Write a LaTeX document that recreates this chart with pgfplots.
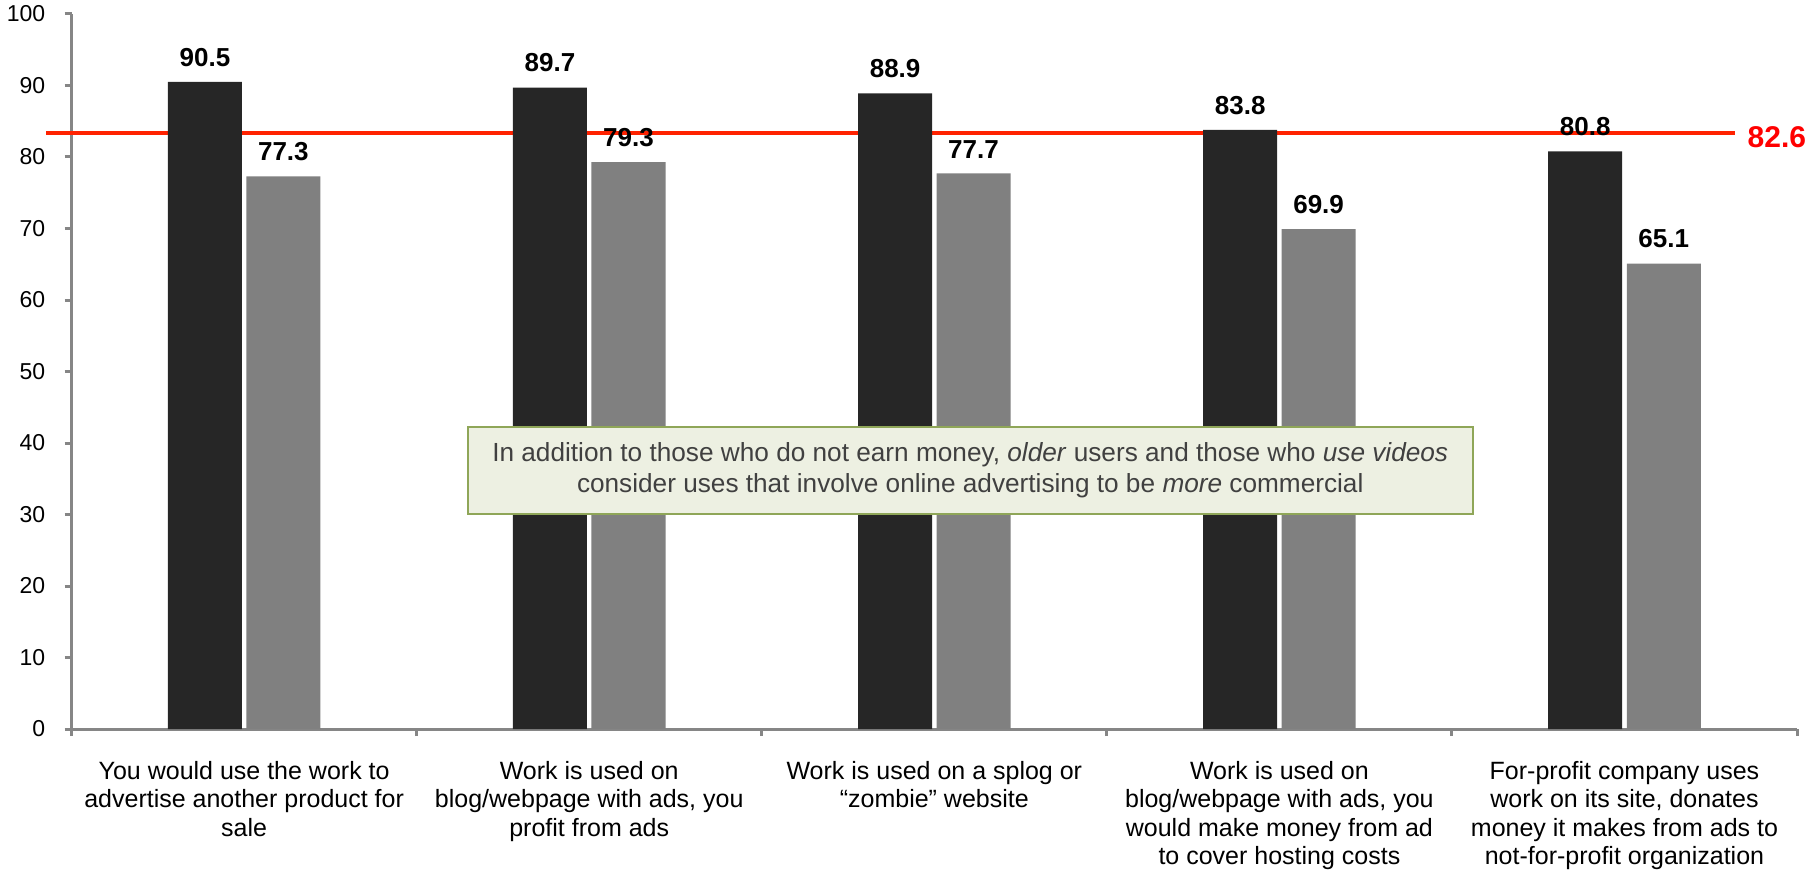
\documentclass[border=0pt]{standalone}
\usepackage{fontspec}
\setmainfont{Liberation Sans}
\usepackage{pgfplots}
\pgfplotsset{compat=1.18}
\definecolor{darkbar}{HTML}{262626}
\definecolor{graybar}{HTML}{808080}
\definecolor{axisgray}{HTML}{868686}
\definecolor{refred}{HTML}{FF2200}
\definecolor{boxfill}{HTML}{EDF0E2}
\definecolor{boxdraw}{HTML}{8FA658}
\definecolor{boxtext}{HTML}{404040}
\begin{document}
\begin{tikzpicture}
\begin{axis}[
  name=ax,
  width=862.7pt, height=357.5pt, scale only axis,
  xmin=-0.5, xmax=4.5, ymin=0, ymax=100,
  clip=false,
  axis x line*=bottom, axis y line*=left,
  axis line style={axisgray, line width=1.5pt},
  tick style={axisgray, line width=1.5pt},
  tick align=outside, major tick length=3.5pt,
  ytick={0,10,...,100},
  xtick={-0.5,0.5,1.5,2.5,3.5,4.5},
  xticklabels={},
  extra x ticks={0,1,2,3,4},
  extra x tick labels={{You would use the work to\\advertise another product for\\sale},
    {Work is used on\\blog/webpage with ads, you\\profit from ads},
    {Work is used on a splog or\\“zombie” website},
    {Work is used on\\blog/webpage with ads, you\\would make money from ad\\to cover hosting costs},
    {For-profit company uses\\work on its site, donates\\money it makes from ads to\\not-for-profit organization}},
  extra x tick style={major tick length=0pt},
  xticklabel style={align=center, font=\fontsize{12.5}{14.2}\selectfont, text=black, inner sep=0pt, anchor=north, yshift=-16pt},
  yticklabel style={font=\fontsize{11.5}{13}\selectfont, text=black, inner sep=0pt, anchor=east, xshift=-9.5pt},
  /pgf/number format/assume math mode=true,
]
\addplot[refred, line width=2pt, forget plot] coordinates {(-0.574,83.3) (4.321,83.3)};
\addplot[ybar, bar width=0.2145, bar shift=-0.1138, fill=darkbar, draw=none,
  nodes near coords={\pgfmathprintnumber[fixed,precision=1,fixed zerofill,assume math mode=true]{\pgfplotspointmeta}},
  every node near coord/.append style={font=\bfseries\fontsize{13}{15}\selectfont, text=black, inner sep=0pt, anchor=south, yshift=7.5pt, xshift=-19.6pt}]
  coordinates {(0,90.5) (1,89.7) (2,88.9) (3,83.8) (4,80.8)};
\addplot[ybar, bar width=0.2145, bar shift=0.1138, fill=graybar, draw=none,
  nodes near coords={\pgfmathprintnumber[fixed,precision=1,fixed zerofill,assume math mode=true]{\pgfplotspointmeta}},
  every node near coord/.append style={font=\bfseries\fontsize{13}{15}\selectfont, text=black, inner sep=0pt, anchor=south, yshift=7.5pt, xshift=19.6pt}]
  coordinates {(0,77.3) (1,79.3) (2,77.7) (3,69.9) (4,65.1)};
\node[anchor=west, inner sep=0pt, text=red, font=\bfseries\fontsize{15}{18}\selectfont, yshift=-2pt] at (axis cs:4.356,83.3) {82.6};
\node[draw=boxdraw, fill=boxfill, line width=1pt, text=boxtext, align=center,
  minimum width=502.5pt, minimum height=43.5pt, inner sep=0pt,
  font=\fontsize{13.1}{15.5}\selectfont] at (axis cs:2.104,36.2)
  {In addition to those who do not earn money, \textit{older} users and those who \textit{use videos}\\consider uses that involve online advertising to be \textit{more} commercial};
\coordinate (bbsw) at (rel axis cs:-0.0415,-0.20699);
\coordinate (bbne) at (rel axis cs:1.00753,1.01958);
\end{axis}
\pgfresetboundingbox
\path[use as bounding box] (bbsw) rectangle (bbne);
\end{tikzpicture}
\end{document}
